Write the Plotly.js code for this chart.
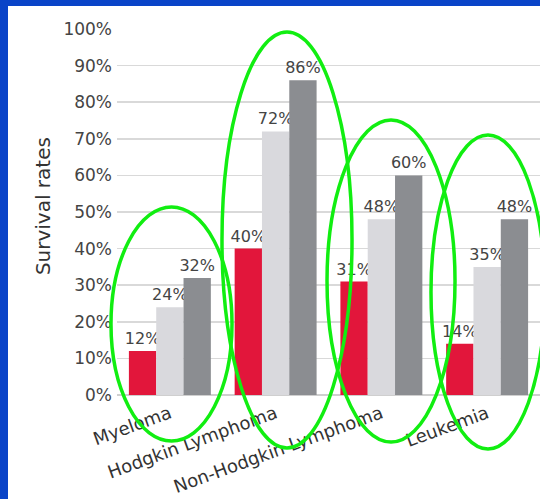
<!DOCTYPE html>
<html>
<head>
<meta charset="utf-8">
<script src="https://cdn.plot.ly/plotly-3.0.1.min.js"></script>
<style>
  html, body { margin: 0; padding: 0; background: #0a44c8; width: 540px; height: 499px; overflow: hidden; }
  #chart { position: absolute; left: 8px; top: 6px; width: 532px; height: 493px; background: #ffffff; }
</style>
</head>
<body>
<div id="chart"></div>
<script>
// Data
var categories = ["Myeloma", "Hodgkin Lymphoma", "Non-Hodgkin Lymphoma", "Leukemia"];
var seriesA = [12, 40, 31, 14];   // red bars
var seriesB = [24, 72, 48, 35];   // light gray bars
var seriesC = [32, 86, 60, 48];   // dark gray bars
var yTickVals = [0, 10, 20, 30, 40, 50, 60, 70, 80, 90, 100];

var labelFont = { family: "DejaVu Sans", size: 16, color: "#444444" };

function barTrace(vals, color) {
  return {
    type: "bar",
    x: categories,
    y: vals,
    marker: { color: color },
    text: vals.map(function (v) { return v + "%"; }),
    textposition: "outside",
    constraintext: "none",
    textfont: labelFont,
    cliponaxis: false,
    hoverinfo: "none"
  };
}

var data = [
  barTrace(seriesA, "#e2163b"),
  barTrace(seriesB, "#d9d9dd"),
  barTrace(seriesC, "#8b8d91")
];

var green = "#11ee11";
function ellipse(x0, x1, y0, y1) {
  return { type: "circle", xref: "paper", yref: "paper", x0: x0, x1: x1, y0: y0, y1: y1,
           line: { color: green, width: 3.5 }, layer: "above" };
}

var layout = {
  width: 532,
  height: 493,
  margin: { l: 109, r: 0, t: 23, b: 104 },
  paper_bgcolor: "#ffffff",
  plot_bgcolor: "#ffffff",
  showlegend: false,
  barmode: "group",
  bargap: 0.225,
  bargroupgap: 0,
  font: { family: "DejaVu Sans", color: "#333333" },
  xaxis: {
    type: "category",
    range: [-0.5, 3.5],
    tickangle: -20,
    tickfont: { family: "DejaVu Sans", size: 18, color: "#333333" },
    ticklabelstandoff: 4,
    showgrid: false,
    zeroline: false,
    showline: false,
    ticks: ""
  },
  yaxis: {
    range: [0, 100],
    tickvals: yTickVals,
    ticktext: yTickVals.map(function (v) { return v + "%"; }),
    tickfont: { family: "DejaVu Sans", size: 17, color: "#444444" },
    ticklabelstandoff: 4,
    gridcolor: "#d9d9d9",
    gridwidth: 1.5,
    zeroline: true,
    zerolinecolor: "#cfcfcf",
    zerolinewidth: 1.5,
    showline: false,
    ticks: ""
  },
  annotations: [{
    text: "Survival rates",
    xref: "paper", yref: "paper",
    x: -0.175, y: 0.516,
    xanchor: "center", yanchor: "middle",
    textangle: -90,
    showarrow: false,
    font: { family: "DejaVu Sans", size: 20, color: "#333333" }
  }],
  shapes: [
    ellipse(-0.0142, 0.2719, -0.1257, 0.5137),
    ellipse(0.2482, 0.5556, -0.1448, 0.9918),
    ellipse(0.4965, 0.7991, -0.1284, 0.7514),
    ellipse(0.7423, 1.0118, -0.1475, 0.7104)
  ]
};

Plotly.newPlot("chart", data, layout, { displayModeBar: false, staticPlot: true });
</script>
</body>
</html>
